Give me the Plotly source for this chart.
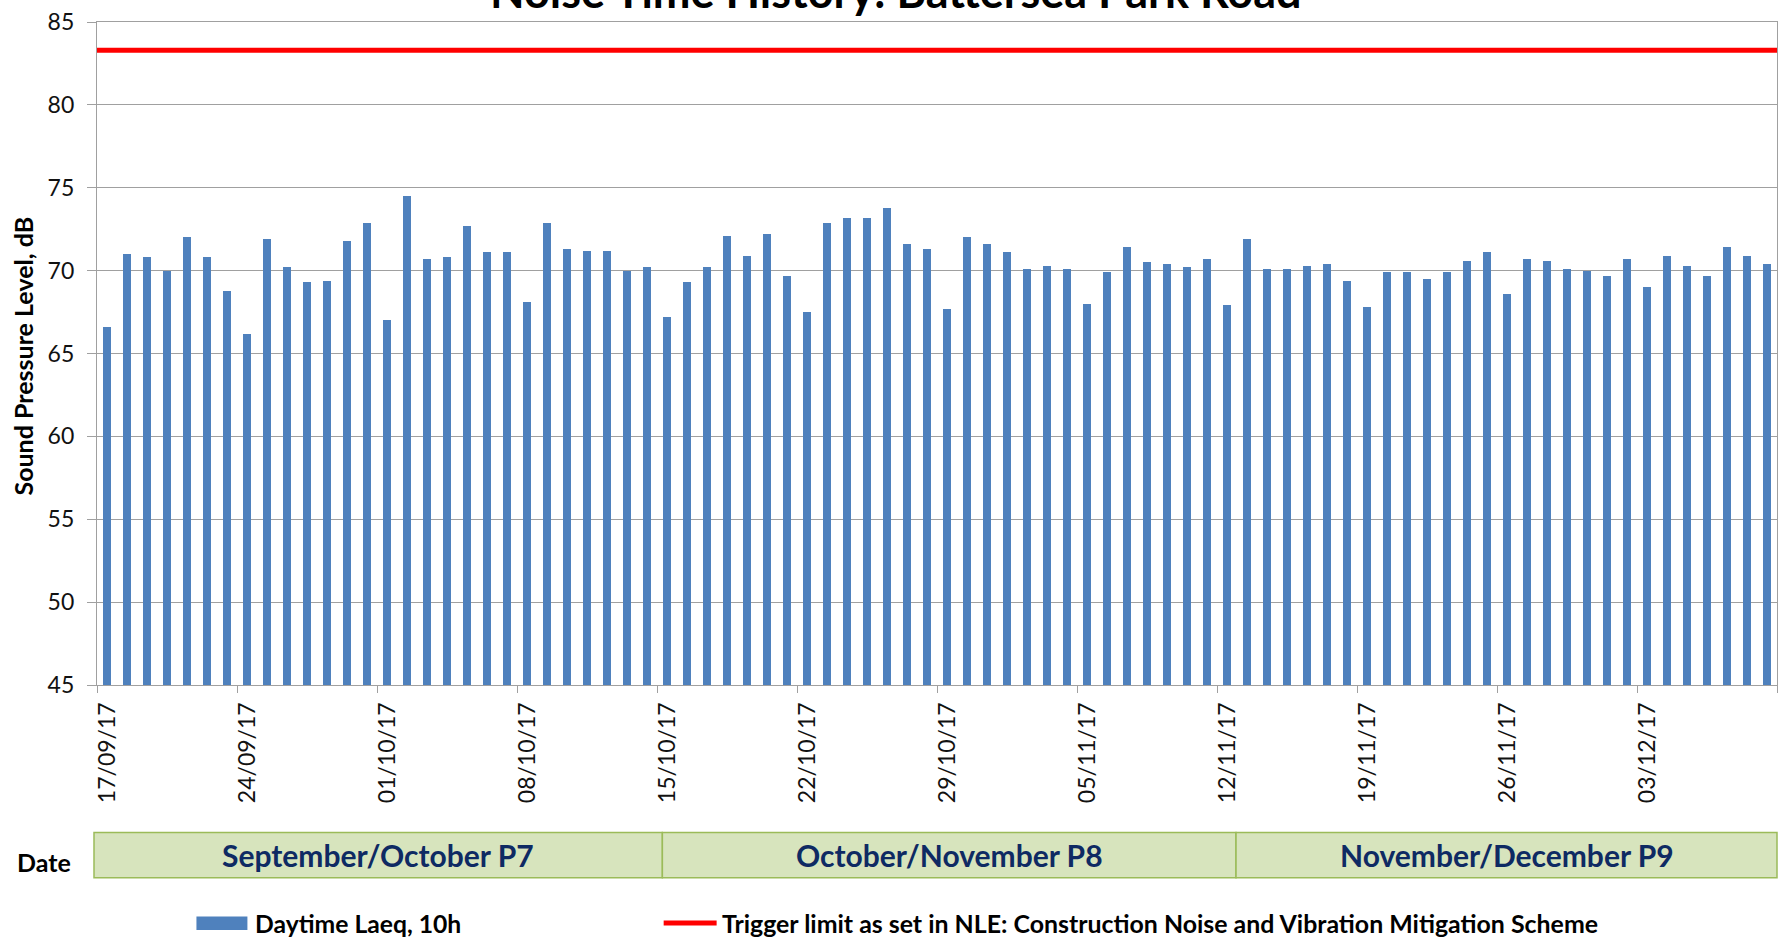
import pandas as pd
import plotly.graph_objects as go

# ---------------- data ----------------
START_DATE = "2017-09-17"
N_DAYS = 84
dates = pd.date_range(START_DATE, periods=N_DAYS, freq="D")

daytime_laeq = [
    66.6, 71.0, 70.8, 70.0, 72.0, 70.8, 68.8, 66.2, 71.9, 70.2,
    69.3, 69.4, 71.8, 72.9, 67.0, 74.5, 70.7, 70.8, 72.7, 71.1,
    71.1, 68.1, 72.9, 71.3, 71.2, 71.2, 70.0, 70.2, 67.2, 69.3,
    70.2, 72.1, 70.9, 72.2, 69.7, 67.5, 72.9, 73.2, 73.2, 73.8,
    71.6, 71.3, 67.7, 72.0, 71.6, 71.1, 70.1, 70.3, 70.1, 68.0,
    69.9, 71.4, 70.5, 70.4, 70.2, 70.7, 67.9, 71.9, 70.1, 70.1,
    70.3, 70.4, 69.4, 67.8, 69.9, 69.9, 69.5, 69.9, 70.6, 71.1,
    68.6, 70.7, 70.6, 70.1, 70.0, 69.7, 70.7, 69.0, 70.9, 70.3,
    69.7, 71.4, 70.9, 70.4,
]
trigger_limit = 83.3

period_labels = ["September/October P7", "October/November P8", "November/December P9"]

title_text = "Noise Time History: Battersea Park Road"
y_title = "Sound Pressure Level, dB"
bar_name = "Daytime Laeq, 10h"
line_name = "Trigger limit as set in NLE: Construction Noise and Vibration Mitigation Scheme"

# ---------------- layout geometry (pixels) ----------------
W, H = 1785, 940
ML, MR, MT, MB = 97, 7, 18, 255
PW = W - ML - MR
PH = H - MT - MB


def xp(px):
    return (px - ML) / PW


def yp(py):
    return (H - MB - py) / PH


FONT = "Lato"
GRID = "#A0A0A0"
BAR = "#4F81BD"
NAVY = "#0E2A63"
TXT = "#111111"

fig = go.Figure()
fig.add_trace(go.Bar(
    x=dates, y=daytime_laeq, name=bar_name,
    xperiod=86400000, xperiodalignment="middle",
    width=0.37 * 86400000,
    marker=dict(color=BAR, line=dict(width=0)),
    showlegend=False,
))

fig.update_layout(
    width=W, height=H,
    margin=dict(l=ML, r=MR, t=MT, b=MB, pad=0),
    paper_bgcolor="white", plot_bgcolor="white",
    font=dict(family=FONT, color=TXT),
    showlegend=False,
    bargap=0,
)
fig.update_xaxes(
    type="date",
    range=[dates[0], dates[-1] + pd.Timedelta(days=1)],
    tick0=START_DATE, dtick=7 * 86400000,
    tickformat="%d/%m/%y", tickangle=-90,
    tickfont=dict(family=FONT, size=23, color=TXT),
    ticks="outside", ticklen=7, tickcolor=GRID, tickwidth=1.3,
    ticklabelshift=11, ticklabelstandoff=0,
    showgrid=False, showline=True, linecolor=GRID, linewidth=1.3, mirror=True,
)
fig.update_yaxes(
    range=[45, 85], dtick=5, tick0=45,
    tickfont=dict(family=FONT, size=23, color=TXT),
    ticks="outside", ticklen=9, tickcolor=GRID, tickwidth=1.3,
    ticklabelstandoff=8,
    showgrid=True, gridcolor=GRID, gridwidth=1.3,
    showline=True, linecolor=GRID, linewidth=1.3, mirror=True,
    zeroline=False,
)

ann = []
# title (partly cut off at the top, as in the reference)
ann.append(dict(text="<b>" + title_text + "</b>", x=xp(896), y=yp(15.5), xref="paper", yref="paper",
                xanchor="center", yanchor="bottom", showarrow=False,
                font=dict(family=FONT, size=45, color="black")))
# y axis title
ann.append(dict(text="<b>" + y_title + "</b>", x=xp(22.5), y=yp(354), xref="paper", yref="paper",
                xanchor="center", yanchor="middle", textangle=-90, showarrow=False,
                font=dict(family=FONT, size=25, color="black")))
# Date row
ann.append(dict(text="<b>Date</b>", x=xp(43.5), y=yp(863), xref="paper", yref="paper",
                xanchor="center", yanchor="middle", showarrow=False,
                font=dict(family=FONT, size=25, color="black")))

shapes = []
box_edges = [94, 662.7, 1236.7, 1778]
box_top, box_bot = 833.5, 879
for i, lab in enumerate(period_labels):
    x0, x1 = box_edges[i], box_edges[i + 1]
    shapes.append(dict(type="rect", xref="paper", yref="paper",
                       x0=xp(x0), x1=xp(x1), y0=yp(box_bot), y1=yp(box_top),
                       fillcolor="#D7E4BD", line=dict(color="#9BBB59", width=1.5)))
    ann.append(dict(text="<b>" + lab + "</b>", x=xp((x0 + x1) / 2), y=yp((box_top + box_bot) / 2),
                    xref="paper", yref="paper", xanchor="center", yanchor="middle", showarrow=False,
                    font=dict(family=FONT, size=30, color=NAVY)))

# trigger limit line across the plot
shapes.append(dict(type="line", xref="paper", yref="y", x0=0, x1=1,
                   y0=trigger_limit, y1=trigger_limit,
                   line=dict(color="#FF0000", width=5), layer="above"))

# legend (drawn manually to match position)
leg_y = 924.5
shapes.append(dict(type="rect", xref="paper", yref="paper",
                   x0=xp(196.5), x1=xp(247.5), y0=yp(931.5), y1=yp(918),
                   fillcolor=BAR, line=dict(width=0)))
ann.append(dict(text="<b>" + bar_name + "</b>", x=xp(253.5), y=yp(leg_y), xref="paper", yref="paper",
                xanchor="left", yanchor="middle", showarrow=False,
                font=dict(family=FONT, size=24.7, color="black")))
shapes.append(dict(type="line", xref="paper", yref="paper",
                   x0=xp(664), x1=xp(717), y0=yp(leg_y), y1=yp(leg_y),
                   line=dict(color="#FF0000", width=5)))
ann.append(dict(text="<b>" + line_name + "</b>", x=xp(720), y=yp(leg_y), xref="paper", yref="paper",
                xanchor="left", yanchor="middle", showarrow=False,
                font=dict(family=FONT, size=24.9, color="black")))

fig.update_layout(annotations=ann, shapes=shapes)
fig.write_html("out.html", config={"displayModeBar": False},
               post_script="document.body.style.margin='0px';document.body.style.overflow='hidden';")
